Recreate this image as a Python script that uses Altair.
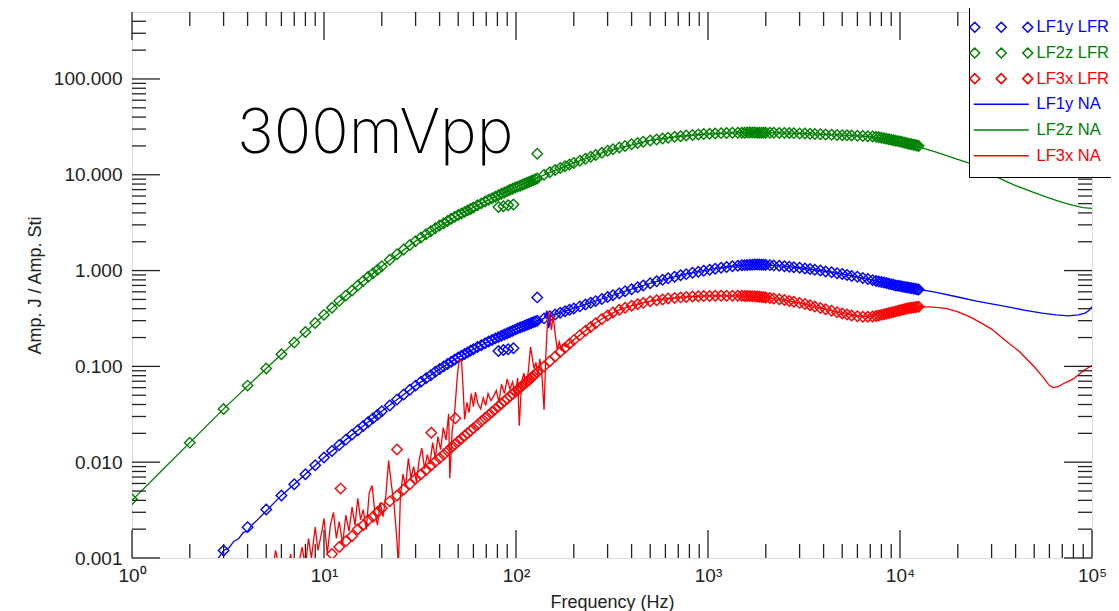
import altair as alt
import pandas as pd

# ---------------- data ----------------
SERIES = ["LF1y LFR", "LF2z LFR", "LF3x LFR", "LF1y NA", "LF2z NA", "LF3x NA"]
COLORS = ["#0000ff", "#008000", "#ff0000", "#0000ff", "#008000", "#ff0000"]

LFR_FREQ = [
    1, 2, 3, 4, 5, 6, 7, 8, 9, 10, 11, 12, 13, 14, 15, 16, 17, 18, 19, 20,
    22, 24, 26, 28, 30, 32, 34, 36, 38, 40, 42, 44, 46, 48, 50, 52, 54, 56, 58, 60,
    63, 66, 69, 72, 75, 78, 81, 84, 87, 90, 93, 96, 99, 102, 105, 108, 111, 114, 117, 120, 123, 126, 129,
    140, 150, 160, 170, 180, 190, 200, 215, 230, 245, 260, 280, 300, 320, 345, 370, 400, 430, 460, 500,
    540, 580, 620, 670, 720, 770, 830, 890, 950, 1020, 1090, 1170, 1250, 1340, 1430, 1500,
    1550, 1600, 1650, 1700, 1750, 1800, 1850, 1900, 1950, 2000,
    2100, 2200, 2350, 2500, 2650, 2800, 3000, 3200, 3400, 3600, 3850, 4100, 4400, 4700, 5000, 5300,
    5600, 6000, 6400, 6800, 7200,
    7500, 7750, 8000, 8250, 8500, 8750, 9000, 9250, 9500, 9750, 10000, 10250, 10500, 10750, 11000,
    11250, 11500, 11750, 12000, 12250, 12500,
]

LF2Z_LFR = [
    0.0041, 0.016, 0.036, 0.063, 0.095, 0.134, 0.178, 0.228, 0.283, 0.345, 0.41, 0.48, 0.55, 0.62, 0.70, 0.78, 0.86, 0.94, 1.02, 1.11,
    1.30, 1.48, 1.66, 1.85, 2.03, 2.21, 2.39, 2.57, 2.76, 2.95, 3.12, 3.30, 3.48, 3.65, 3.80, 3.95, 4.10, 4.25, 4.40, 4.55,
    4.80, 5.03, 5.27, 5.49, 5.70, 5.91, 6.12, 6.33, 6.54, 6.75, 6.96, 7.16, 7.36, 7.52, 7.70, 7.88, 8.06, 8.24, 8.42, 8.60, 8.78, 8.96, 9.14,
    10.0, 10.6, 11.2, 11.75, 12.3, 12.8, 13.3, 14.0, 14.7, 15.4, 16.1, 17.0, 17.8, 18.5, 19.3, 20.0, 20.8, 21.5, 22.1, 22.8,
    23.4, 23.9, 24.4, 24.9, 25.3, 25.7, 26.0, 26.3, 26.6, 26.8, 27.0, 27.2, 27.3, 27.4, 27.5, 27.5,
    27.5, 27.55, 27.55, 27.55, 27.55, 27.5, 27.5, 27.5, 27.5, 27.5,
    27.45, 27.4, 27.35, 27.3, 27.25, 27.2, 27.0, 26.9, 26.75, 26.6, 26.5, 26.35, 26.2, 26.05, 25.9, 25.8,
    25.7, 25.55, 25.4, 25.25, 25.05,
    24.9, 24.65, 24.4, 24.1, 23.8, 23.5, 23.2, 22.95, 22.7, 22.45, 22.2, 21.95, 21.7, 21.45, 21.2,
    21.0, 20.8, 20.6, 20.4, 20.2, 20.0,
]

LF1Y_LFR = [
    None, None, 0.0012, 0.0021, 0.0032, 0.0045, 0.0059, 0.0075, 0.0093, 0.0112, 0.0131, 0.0151, 0.0172, 0.0194, 0.0216, 0.0239, 0.0263, 0.0287, 0.0313, 0.034,
    0.039, 0.045, 0.051, 0.057, 0.063, 0.069, 0.075, 0.081, 0.088, 0.094, 0.100, 0.106, 0.112, 0.118, 0.124, 0.129, 0.135, 0.140, 0.146, 0.151,
    0.159, 0.166, 0.174, 0.182, 0.189, 0.196, 0.202, 0.209, 0.215, 0.222, 0.229, 0.235, 0.242, 0.248, 0.254, 0.260, 0.266, 0.272, 0.277, 0.283, 0.289, 0.294, 0.299,
    0.317, 0.333, 0.348, 0.362, 0.376, 0.390, 0.403, 0.423, 0.442, 0.461, 0.48, 0.505, 0.530, 0.553, 0.580, 0.608, 0.640, 0.670, 0.700, 0.738,
    0.772, 0.803, 0.830, 0.862, 0.892, 0.918, 0.948, 0.973, 0.995, 1.02, 1.045, 1.07, 1.09, 1.11, 1.125, 1.135,
    1.14, 1.145, 1.15, 1.153, 1.155, 1.155, 1.155, 1.153, 1.15, 1.147,
    1.14, 1.133, 1.122, 1.11, 1.097, 1.085, 1.07, 1.053, 1.037, 1.02, 1.0, 0.98, 0.96, 0.94, 0.92, 0.90,
    0.88, 0.86, 0.835, 0.815, 0.795,
    0.780, 0.770, 0.760, 0.750, 0.740, 0.730, 0.720, 0.710, 0.700, 0.695, 0.690, 0.683, 0.676, 0.670, 0.665,
    0.660, 0.655, 0.650, 0.645, 0.640, 0.635,
]

LF3X_LFR = [
    None, None, None, None, None, None, None, None, None, None, 0.0011, 0.0013, 0.0015, 0.0017, 0.0020, 0.0022, 0.0025, 0.0027, 0.0030, 0.0033,
    0.0039, 0.0045, 0.0052, 0.0059, 0.0067, 0.0075, 0.0083, 0.0092, 0.0101, 0.0110, 0.0120, 0.0131, 0.0142, 0.0153, 0.0165, 0.0177, 0.0189, 0.0200, 0.0213, 0.0226,
    0.0246, 0.0267, 0.0289, 0.0311, 0.0334, 0.0358, 0.0383, 0.0408, 0.0434, 0.0460, 0.0487, 0.0515, 0.0542, 0.0570, 0.0600, 0.0630, 0.0660, 0.0690, 0.0720, 0.0760, 0.0795, 0.0830, 0.0870,
    0.100, 0.113, 0.127, 0.141, 0.156, 0.172, 0.188, 0.212, 0.235, 0.258, 0.282, 0.312, 0.340, 0.365, 0.390, 0.410, 0.430, 0.445, 0.460, 0.478,
    0.490, 0.500, 0.510, 0.518, 0.525, 0.531, 0.536, 0.540, 0.542, 0.544, 0.545, 0.546, 0.546, 0.546, 0.545, 0.545,
    0.544, 0.543, 0.542, 0.540, 0.538, 0.536, 0.533, 0.530, 0.527, 0.524,
    0.517, 0.511, 0.502, 0.492, 0.482, 0.472, 0.460, 0.447, 0.434, 0.421, 0.407, 0.394, 0.380, 0.368, 0.357, 0.348,
    0.340, 0.334, 0.330, 0.329, 0.331,
    0.335, 0.340, 0.345, 0.350, 0.355, 0.360, 0.365, 0.370, 0.375, 0.380, 0.385, 0.390, 0.395, 0.400, 0.405,
    0.408, 0.410, 0.413, 0.415, 0.418, 0.420,
]

# stray LFR points (second low-frequency branch and outliers)
LF2Z_EXTRA_FREQ = [81, 86, 91, 97, 129]
LF2Z_EXTRA = [4.6, 4.7, 4.8, 4.9, 16.6]
LF1Y_EXTRA_FREQ = [81, 86, 91, 97, 129]
LF1Y_EXTRA = [0.145, 0.148, 0.151, 0.155, 0.525]
LF3X_EXTRA_FREQ = [12.2, 24.0, 36.2, 48.3]
LF3X_EXTRA = [0.0053, 0.0136, 0.0203, 0.0287]

# network-analyser traces
LF2Z_NA_FREQ = [1, 1.5, 2, 3, 5, 7, 10, 15, 20, 30, 50, 70, 100, 150, 200, 300, 500, 700, 1000, 1500,
                2000, 3000, 5000, 7000, 9000, 12500, 15000, 20000, 22700, 25000, 30000, 35000, 40000,
                50000, 60000, 70000, 80000, 90000, 100000]
LF2Z_NA = [0.0040, 0.0090, 0.016, 0.036, 0.095, 0.178, 0.345, 0.70, 1.11, 2.03, 3.8, 5.35, 7.4, 10.6, 13.3,
           17.8, 22.8, 25.1, 26.7, 27.5, 27.5, 27.0, 25.9, 25.1, 23.2, 19.6, 17.5, 14.5, 13.3, 12.2, 10.1,
           8.7, 7.7, 6.5, 5.7, 5.15, 4.8, 4.55, 4.45]

LF1Y_NA_FREQ = [2.8, 3.0, 3.2, 3.4, 3.6, 3.8, 4.0, 4.2, 4.5, 5, 6, 7, 8, 10, 13, 16, 20, 25, 30, 40, 50,
                60, 70, 85, 100, 115, 130, 140, 145, 148, 152, 175, 220, 300, 400, 520, 680, 870, 1120,
                1450, 1800, 2300, 3000, 4000, 5300, 6900, 9000, 11000, 12500, 15000, 20000, 25000, 30000,
                36000, 45000, 55000, 65000, 75000, 85000, 92000, 96000, 100000]
LF1Y_NA = [0.00098, 0.0012, 0.00128, 0.0015, 0.0016, 0.00185, 0.0019, 0.0022, 0.0025, 0.0031, 0.0045,
           0.0059, 0.0075, 0.0112, 0.0172, 0.0239, 0.034, 0.048, 0.063, 0.094, 0.124, 0.151, 0.177, 0.211,
           0.244, 0.274, 0.30, 0.317, 0.38, 0.25, 0.34, 0.37, 0.43, 0.53, 0.64, 0.755, 0.87, 0.97, 1.06,
           1.13, 1.155, 1.125, 1.07, 0.99, 0.90, 0.81, 0.72, 0.665, 0.635, 0.60, 0.53, 0.48, 0.45, 0.42,
           0.385, 0.36, 0.345, 0.337, 0.345, 0.36, 0.38, 0.42]

LF3X_NA_FREQ = [5.3, 5.6, 5.9, 6.3, 6.7, 7.0, 7.4, 7.7, 8.0, 8.3, 8.6, 9.0, 9.3, 9.7, 10.0, 10.4, 10.8,
                11.2, 11.6, 12.0, 12.5, 13.0, 13.5, 14.0, 14.5, 15.0, 15.5, 16.0, 16.6, 17.2, 17.8, 18.4,
                19.0, 19.6, 20.3, 21.0, 21.7, 22.4, 23.2, 24.0, 24.4, 25.0, 25.8, 26.6, 27.5, 28.4, 29.3,
                30.3, 31.3, 32.3, 33.4, 34.5, 35.6, 36.8, 38.0, 39.2, 40.5, 41.8, 43.2, 44.6, 45.2, 46.5,
                48.0, 49.5, 50.5, 52.0, 53.0, 54.0, 55.5, 57.0, 58.5, 60.0, 61.5, 63.5, 65.5, 67.5, 69.5,
                71.5, 74.0, 76.5, 79.0, 81.5, 84.0, 87.0, 90.0, 93.0, 96.0, 99.0, 102.0, 104.0, 107.0,
                110.0, 113.0, 116.0, 119.0, 121.0, 124.0, 127.0, 130.0, 133.0, 136.0, 140.0, 143.0, 146.0,
                148.0, 150.0, 153.0, 156.0, 160.0, 164.0, 168.0, 172.0, 176.0, 182.0, 190.0, 200.0,
                220, 250, 285, 340, 400, 500, 620, 800, 1000, 1500, 2000, 2500, 3000, 4000, 5000, 6000,
                7000, 8000, 9000, 10000, 11000, 12500, 15000, 17600, 20000, 23000, 26000, 30000, 35000,
                42000, 50000, 56000, 60000, 63000, 67000, 72000, 80000, 90000, 100000]
LF3X_NA = [0.0006, 0.0012, 0.0007, 0.0005, 0.0011, 0.0006, 0.0009, 0.0013, 0.0008, 0.0016, 0.0010,
           0.0021, 0.0012, 0.0018, 0.0026, 0.0011, 0.0022, 0.0030, 0.0016, 0.0024, 0.0014, 0.0028,
           0.0019, 0.0034, 0.0022, 0.0042, 0.0025, 0.0032, 0.0020, 0.0048, 0.0057, 0.0030, 0.0022,
           0.0038, 0.0027, 0.0045, 0.0104, 0.0060, 0.0035, 0.0015, 0.0008, 0.0045, 0.0075, 0.0055,
           0.0110, 0.0068, 0.0090, 0.0062, 0.0105, 0.0140, 0.0085, 0.0120, 0.0095, 0.0160, 0.0110,
           0.0185, 0.0135, 0.0230, 0.0170, 0.0320, 0.0068, 0.0210, 0.0350, 0.0800, 0.1150, 0.1150,
           0.0600, 0.0280, 0.0420, 0.0330, 0.0520, 0.0380, 0.0540, 0.0400, 0.0360, 0.0470, 0.0390,
           0.0520, 0.0440, 0.0490, 0.0560, 0.0420, 0.0650, 0.0520, 0.0740, 0.0580, 0.0690, 0.0500,
           0.0760, 0.0240, 0.0700, 0.0850, 0.0620, 0.0900, 0.1600, 0.1300, 0.0950, 0.1100, 0.0800,
           0.1200, 0.0900, 0.0350, 0.1300, 0.3000, 0.3700, 0.3200, 0.2400, 0.3400, 0.2200, 0.1500,
           0.1800, 0.1500, 0.1700, 0.1600, 0.1750, 0.1900,
           0.22, 0.27, 0.32, 0.385, 0.43, 0.48, 0.51, 0.535, 0.545, 0.545, 0.524, 0.492, 0.46, 0.40,
           0.357, 0.334, 0.33, 0.345, 0.365, 0.385, 0.405, 0.42, 0.415, 0.40, 0.37, 0.33, 0.29, 0.245,
           0.19, 0.142, 0.099, 0.076, 0.063, 0.060, 0.062, 0.067, 0.074, 0.090, 0.102]

ANNOT_FREQ = [3.52]
ANNOT_AMP = [16.9]
ANNOT_TEXT = ["300mVpp"]

X_MAJOR = [1, 10, 100, 1000, 10000, 100000]
X_MINOR = [m * 10 ** k for k in range(5) for m in range(2, 10)]
Y_MAJOR = [0.001, 0.01, 0.1, 1, 10, 100]
Y_MINOR = [round(m * 10.0 ** k, 6) for k in range(-3, 2) for m in range(2, 10)] + [200, 300, 400]

# ---------------- tables ----------------
def rows(name, freqs, vals):
    return [{"freq": f, "amp": v, "series": name} for f, v in zip(freqs, vals) if v is not None]

pts = pd.DataFrame(
    rows("LF1y LFR", LFR_FREQ, LF1Y_LFR) + rows("LF1y LFR", LF1Y_EXTRA_FREQ, LF1Y_EXTRA)
    + rows("LF2z LFR", LFR_FREQ, LF2Z_LFR) + rows("LF2z LFR", LF2Z_EXTRA_FREQ, LF2Z_EXTRA)
    + rows("LF3x LFR", LFR_FREQ, LF3X_LFR) + rows("LF3x LFR", LF3X_EXTRA_FREQ, LF3X_EXTRA)
)
lines = pd.DataFrame(
    rows("LF1y NA", LF1Y_NA_FREQ, LF1Y_NA)
    + rows("LF2z NA", LF2Z_NA_FREQ, LF2Z_NA)
    + rows("LF3x NA", LF3X_NA_FREQ, LF3X_NA)
)
annot = pd.DataFrame({"freq": ANNOT_FREQ, "amp": ANNOT_AMP, "label": ANNOT_TEXT})

W, H = 960, 546
MAJ, MIN = 28, 14
FONT = "Liberation Sans"

xscale = alt.Scale(type="log", domain=[1, 100000], nice=False)
yscale = alt.Scale(type="log", domain=[0.001, 500], nice=False)
cscale = alt.Scale(domain=SERIES, range=COLORS)

xaxis = alt.Axis(
    values=X_MAJOR, ticks=False, tickSize=0, domain=False, grid=False, labelFlush=False,
    labelOverlap=False, labelExpr="'10' + ['⁰','¹','²','³','⁴','⁵'][round(log(datum.value)/LN10)]",
    labelFont=FONT, labelFontSize=19, labelColor="#222", labelPadding=8,
    title="Frequency (Hz)", titleFont=FONT, titleFontSize=18, titleFontWeight="normal",
    titleColor="#222", titlePadding=8,
)
yaxis = alt.Axis(
    values=Y_MAJOR, format=".3f", ticks=False, tickSize=0, domain=False, grid=False,
    labelOverlap=False, labelFont=FONT, labelFontSize=19, labelColor="#222", labelPadding=10,
    title="Amp. J / Amp. Sti", titleFont=FONT, titleFontSize=18, titleFontWeight="normal",
    titleColor="#222", titlePadding=9,
)

TRIPLE = ("M-6.3,0L-5.3,-1L-4.3,0L-5.3,1Z M-1,0L0,-1L1,0L0,1Z "
          "M4.3,0L5.3,-1L6.3,0L5.3,1Z")
LINE = "M-5.5,0L5.5,0"
legend = alt.Legend(
    title=None, orient="none", legendX=837, legendY=-5, direction="vertical",
    padding=12, strokeColor="black", fillColor="white", labelFont=FONT, labelFontSize=16.5,
    symbolOffset=12, labelOffset=27, rowPadding=8.7, symbolSize=100, symbolStrokeWidth=1.5,
    symbolFillColor="transparent", symbolOpacity=1, labelLimit=200,
    symbolType={"expr": "indexof(datum.value, 'NA') >= 0 ? '" + LINE + "' : '" + TRIPLE + "'"},
    labelColor={"expr": "scale('color', datum.value)"},
)

X = alt.X("freq:Q", scale=xscale, axis=xaxis)
Y = alt.Y("amp:Q", scale=yscale, axis=yaxis)

points_layer = alt.Chart(pts).mark_point(
    shape="diamond", filled=False, size=110, strokeWidth=1.4, clip=True, opacity=1
).encode(x=X, y=Y, color=alt.Color("series:N", scale=cscale, legend=legend))

lines_layer = alt.Chart(lines).mark_line(strokeWidth=1.3, clip=True).encode(
    x=X, y=Y, color=alt.Color("series:N", scale=cscale, legend=legend)
)

text_layer = alt.Chart(annot).mark_text(
    font="Inter", fontWeight=200, fontSize=62, align="left", baseline="alphabetic", color="black"
).encode(x=X, y=Y, text="label:N")


def xticks(vals, length, top):
    y0, y1 = (0, length) if top else (H, H - length)
    return alt.Chart(pd.DataFrame({"freq": vals})).mark_rule(color="#222", strokeWidth=1.3).encode(
        x=X, y=alt.value(y0), y2=alt.value(y1)
    )


def yticks(vals, length, right):
    x0, x1 = (W, W - length) if right else (0, length)
    return alt.Chart(pd.DataFrame({"amp": vals})).mark_rule(color="#222", strokeWidth=1.3).encode(
        y=Y, x=alt.value(x0), x2=alt.value(x1)
    )


tick_layers = [
    xticks(X_MAJOR, MAJ, False), xticks(X_MINOR, MIN, False),
    xticks(X_MAJOR, MAJ, True), xticks(X_MINOR, MIN, True),
    yticks(Y_MAJOR, MAJ, False), yticks(Y_MINOR, MIN, False),
    yticks(Y_MAJOR, MAJ, True), yticks(Y_MINOR, MIN, True),
]

chart = alt.layer(
    points_layer, lines_layer, text_layer, *tick_layers
).properties(
    width=W, height=H,
    autosize=alt.AutoSizeParams(type="none"),
    padding={"left": 124, "top": 4, "right": 19, "bottom": 62},
).configure_view(
    stroke="black", strokeWidth=1.6
).configure(background="white")

chart.save("out.html", embed_options={"renderer": "svg", "actions": False})
